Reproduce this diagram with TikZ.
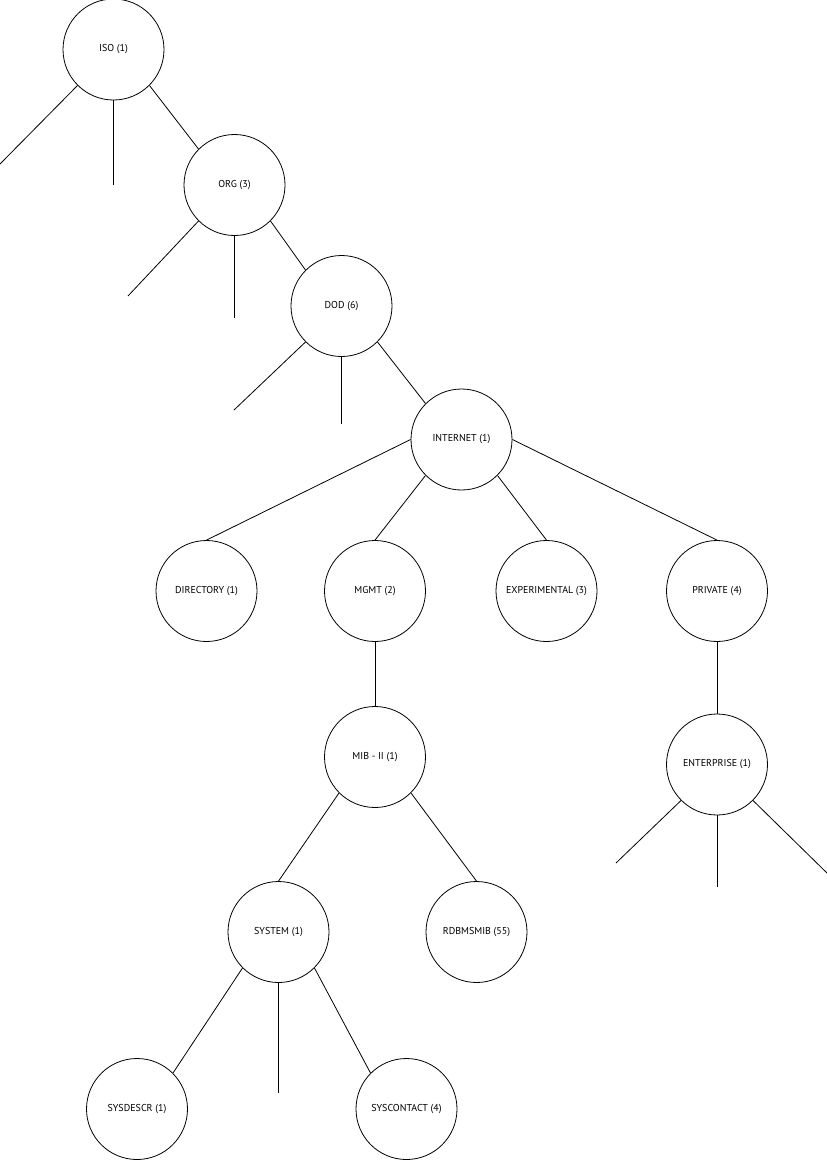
\documentclass[tikz,border=0pt]{standalone}
\usepackage{fontspec}
\setmainfont{PT Sans}
\tikzset{
  mibnode/.style={circle,draw,minimum size=101pt,inner sep=0pt,line width=0.8pt,font=\fontsize{10}{12}\selectfont},
  conn/.style={line width=0.8pt}
}
\begin{document}
\begin{tikzpicture}[x=1pt,y=-1pt]
\useasboundingbox (0,0) rectangle (827,1160);
% nodes
\node[mibnode] (iso)   at (113.5,49.5) {ISO (1)};
\node[mibnode] (org)   at (234.5,185)  {ORG (3)};
\node[mibnode] (dod)   at (341.5,306)  {DOD (6)};
\node[mibnode] (inet)  at (461.5,439.5) {INTERNET (1)};
\node[mibnode] (dir)   at (206.5,591)  {DIRECTORY (1)};
\node[mibnode] (mgmt)  at (375,591)    {MGMT (2)};
\node[mibnode] (exp)   at (546.5,591)  {EXPERIMENTAL (3)};
\node[mibnode] (priv)  at (717,591)    {PRIVATE (4)};
\node[mibnode] (mib)   at (375,757)    {MIB - II (1)};
\node[mibnode] (ent)   at (717,764.5)  {ENTERPRISE (1)};
\node[mibnode] (sys)   at (278.5,932)  {SYSTEM (1)};
\node[mibnode] (rdb)   at (476.5,932)  {RDBMSMIB (55)};
\node[mibnode] (sdescr) at (137,1109)  {SYSDESCR (1)};
\node[mibnode] (scont) at (406.5,1109) {SYSCONTACT (4)};
% stub ends
\coordinate (isoL) at (0,164);
\coordinate (isoV) at (113.5,185);
\coordinate (orgL) at (128,296);
\coordinate (orgV) at (234.5,318);
\coordinate (dodL) at (234,410);
\coordinate (dodV) at (341.5,424);
\coordinate (entL) at (616,863);
\coordinate (entV) at (717,887);
\coordinate (entR) at (827,873);
\coordinate (sysV) at (278.5,1093);
% connectors
\draw[conn] (iso.south west) -- (isoL);
\draw[conn] (iso.south) -- (isoV);
\draw[conn] (iso.south east) -- (org.north west);
\draw[conn] (org.south west) -- (orgL);
\draw[conn] (org.south) -- (orgV);
\draw[conn] (org.south east) -- (dod.north west);
\draw[conn] (dod.south west) -- (dodL);
\draw[conn] (dod.south) -- (dodV);
\draw[conn] (dod.south east) -- (inet.north west);
\draw[conn] (inet.west) -- (dir.north);
\draw[conn] (inet.south west) -- (mgmt.north);
\draw[conn] (inet.south east) -- (exp.north);
\draw[conn] (inet.east) -- (priv.north);
\draw[conn] (mgmt.south) -- (mib.north);
\draw[conn] (priv.south) -- (ent.north);
\draw[conn] (ent.south west) -- (entL);
\draw[conn] (ent.south) -- (entV);
\draw[conn] (ent.south east) -- (entR);
\draw[conn] (mib.south west) -- (sys.north);
\draw[conn] (mib.south east) -- (rdb.north);
\draw[conn] (sys.south west) -- (sdescr.north east);
\draw[conn] (sys.south) -- (sysV);
\draw[conn] (sys.south east) -- (scont.north west);
\end{tikzpicture}
\end{document}
